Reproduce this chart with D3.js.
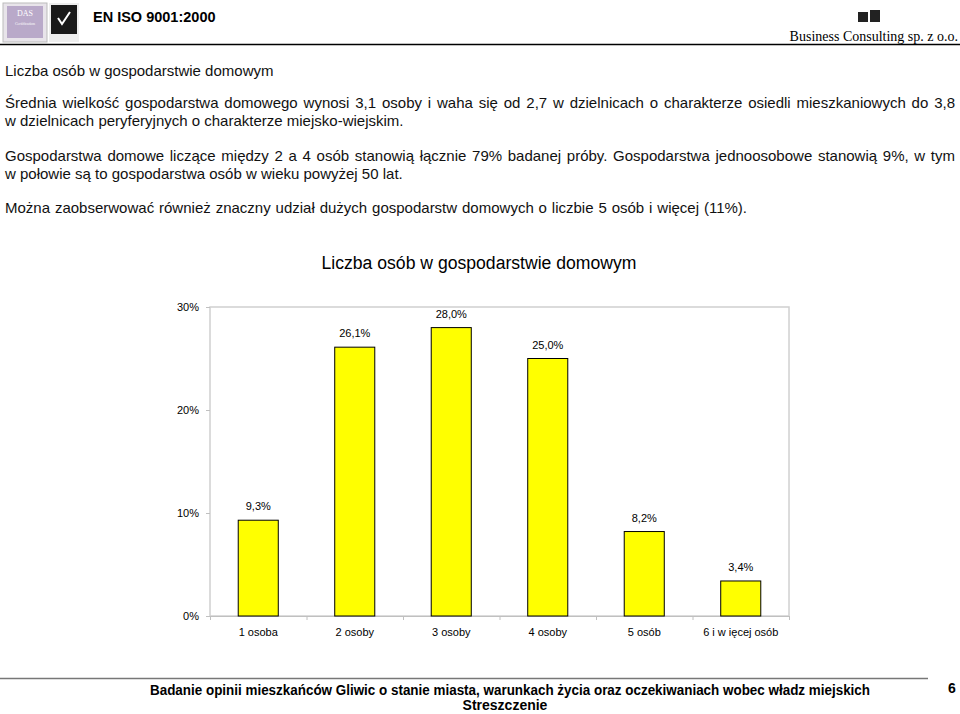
<!DOCTYPE html>
<html><head><meta charset="utf-8">
<script src="https://cdn.jsdelivr.net/npm/d3@7"></script>
<style>body{margin:0;background:#fff}svg{display:block}</style>
</head><body>
<svg id="c" width="960" height="714"></svg>
<script>
const categories = ["1 osoba","2 osoby","3 osoby","4 osoby","5 osób","6 i w ięcej osób"];
const values = [9.3, 26.1, 28.0, 25.0, 8.2, 3.4];
const valueLabels = ["9,3%","26,1%","28,0%","25,0%","8,2%","3,4%"];
const yTicks = [0, 10, 20, 30];
const chartTitle = "Liczba osób w gospodarstwie domowym";
const bodyLines = [
  {t:"Liczba osób w gospodarstwie domowym", y:76, end:null},
  {t:"Średnia wielkość gospodarstwa domowego wynosi 3,1 osoby i waha się od 2,7 w dzielnicach o charakterze osiedli mieszkaniowych do 3,8", y:108, end:955},
  {t:"w dzielnicach peryferyjnych o charakterze miejsko-wiejskim.", y:126, end:399},
  {t:"Gospodarstwa domowe liczące między 2 a 4 osób stanowią łącznie 79% badanej próby. Gospodarstwa jednoosobowe stanowią 9%, w tym", y:161, end:955},
  {t:"w połowie są to gospodarstwa osób w wieku powyżej 50 lat.", y:179, end:null},
  {t:"Można zaobserwować również znaczny udział dużych gospodarstw domowych o liczbie 5 osób i więcej (11%).", y:213, end:747}
];

const svg = d3.select("#c");
const F = "Arial, 'Liberation Sans', sans-serif";

// header
svg.append("rect").attr("x",3).attr("y",3).attr("width",44).attr("height",39).attr("fill","#e8e4ea").attr("stroke","#bbb");
svg.append("rect").attr("x",7).attr("y",6).attr("width",36).attr("height",32).attr("fill","#b9a9c9");
svg.append("text").attr("x",25).attr("y",16).attr("text-anchor","middle").attr("font-family","Times New Roman, serif").attr("font-size",8).attr("fill","#fff").text("DAS");
svg.append("text").attr("x",25).attr("y",25).attr("text-anchor","middle").attr("font-family","serif").attr("font-size",4).attr("fill","#fff").text("Certification");
svg.append("rect").attr("x",49).attr("y",3).attr("width",30).attr("height",39).attr("fill","#eee");
svg.append("rect").attr("x",51).attr("y",5).attr("width",26).attr("height",29).attr("fill","#1a1a1a");
svg.append("path").attr("d","M58 18 L62 24 L70 12").attr("stroke","#fff").attr("stroke-width",2).attr("fill","none");
svg.append("text").attr("x",93).attr("y",22).attr("font-family",F).attr("font-weight","bold").attr("font-size",14.5).attr("fill","#000").text("EN ISO 9001:2000");
svg.append("rect").attr("x",858).attr("y",12).attr("width",10).attr("height",10).attr("fill","#222");
svg.append("rect").attr("x",870).attr("y",10).attr("width",10).attr("height",12).attr("fill","#222");
svg.append("text").attr("x",958).attr("y",41).attr("text-anchor","end").attr("font-family","'Liberation Serif', 'Times New Roman', serif").attr("font-size",14).attr("fill","#000").text("Business Consulting sp. z o.o.");
svg.append("line").attr("x1",0).attr("x2",960).attr("y1",44.5).attr("y2",44.5).attr("stroke","#000").attr("stroke-width",1.5);

// body text
bodyLines.forEach(l=>{
  const t = svg.append("text").attr("x",5).attr("y",l.y).attr("font-family",F).attr("font-size",15).attr("fill","#111").text(l.t);
  if(l.end){
    const w = t.node().getComputedTextLength();
    const n = l.t.split(" ").length-1;
    t.attr("word-spacing",Math.max(0,(l.end-5-w)/n));
  }
});

// chart
const x0=210, x1=789, yTop=307, yBot=616;
const x = d3.scaleBand().domain(categories).range([x0,x1]).paddingInner(0.585).paddingOuter(0.2925);
const y = d3.scaleLinear().domain([0,30]).range([yBot,yTop]);

svg.append("text").attr("x",479).attr("y",269).attr("text-anchor","middle").attr("font-family",F).attr("font-size",17.6).attr("fill","#000").text(chartTitle);

svg.append("rect").attr("x",x0).attr("y",yTop).attr("width",x1-x0).attr("height",yBot-yTop).attr("fill","none").attr("stroke","#d0d0d0").attr("stroke-width",1.5);

const ya = svg.append("g").attr("transform",`translate(${x0},0)`)
  .call(d3.axisLeft(y).tickValues(yTicks).tickSize(4).tickFormat(d=>d+"%"));
ya.select(".domain").remove();
ya.selectAll("line").attr("stroke","#c0c0c0");
ya.selectAll("text").attr("font-family",F).attr("font-size",11).attr("fill","#000").attr("dx",-4);

const xa = svg.append("g").attr("transform",`translate(0,${yBot})`)
  .call(d3.axisBottom(d3.scalePoint().domain(d3.range(7)).range([x0,x1])).tickSize(4).tickFormat(""));
xa.select(".domain").attr("stroke","#c0c0c0");
xa.selectAll("line").attr("stroke","#c0c0c0");

svg.append("g").selectAll("text").data(categories).join("text")
  .attr("x",d=>x(d)+x.bandwidth()/2).attr("y",636).attr("text-anchor","middle")
  .attr("font-family",F).attr("font-size",11).attr("fill","#000").text(d=>d);

svg.append("g").selectAll("rect").data(values).join("rect")
  .attr("x",(d,i)=>x(categories[i])).attr("width",x.bandwidth())
  .attr("y",d=>y(d)).attr("height",d=>yBot-y(d))
  .attr("fill","#ffff00").attr("stroke","#000").attr("stroke-width",1);

svg.append("g").selectAll("text").data(values).join("text")
  .attr("x",(d,i)=>x(categories[i])+x.bandwidth()/2).attr("y",d=>y(d)-10)
  .attr("text-anchor","middle").attr("font-family",F).attr("font-size",11).attr("fill","#000")
  .text((d,i)=>valueLabels[i]);

// footer
svg.append("line").attr("x1",0).attr("x2",928).attr("y1",678.5).attr("y2",678.5).attr("stroke","#777").attr("stroke-width",1.5);
svg.append("text").attr("x",510).attr("y",695).attr("text-anchor","middle").attr("font-family",F).attr("font-weight","bold").attr("font-size",14).attr("textLength",720).attr("lengthAdjust","spacingAndGlyphs").attr("fill","#000")
  .text("Badanie opinii mieszkańców Gliwic o stanie miasta, warunkach życia oraz oczekiwaniach wobec władz miejskich");
svg.append("text").attr("x",505).attr("y",710).attr("text-anchor","middle").attr("font-family",F).attr("font-weight","bold").attr("font-size",14).attr("fill","#000").text("Streszczenie");
svg.append("text").attr("x",952).attr("y",693).attr("text-anchor","middle").attr("font-family",F).attr("font-weight","bold").attr("font-size",14).attr("fill","#000").text("6");
</script>
</body></html>
